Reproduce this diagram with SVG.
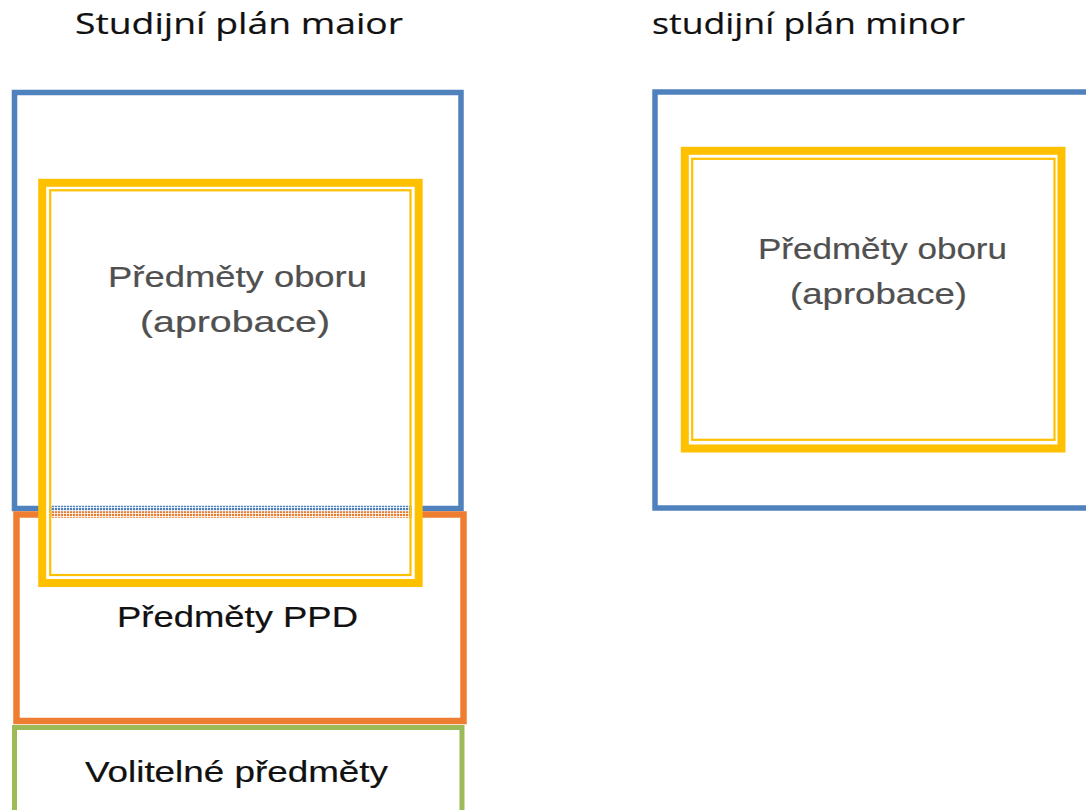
<svg xmlns="http://www.w3.org/2000/svg" width="1086" height="810" viewBox="0 0 1086 810">
<defs>
<style>
.title{font-family:"Open Sans","Liberation Sans",sans-serif;font-size:30px;fill:#111;stroke:#111;stroke-width:0.2;}
.lbl{font-family:"Liberation Sans",Arial,sans-serif;font-size:29.5px;fill:#111;stroke:#111;stroke-width:0.2;}
.gray{font-family:"Liberation Sans",Arial,sans-serif;font-size:30px;fill:#505050;stroke:#505050;stroke-width:0.2;}
.blue{fill:none;stroke:#4F81BD;stroke-width:5.5;}
.orange{fill:none;stroke:#ED7D31;stroke-width:6.5;}
.green{fill:none;stroke:#9BBB59;stroke-width:5;}
.ythick{fill:none;stroke:#FFC000;stroke-width:8;}
.ythin{fill:none;stroke:#FFC000;stroke-width:2.2;}
.gap{fill:none;stroke:#fff;stroke-width:3.5;}
</style>
<pattern id="hatch" width="3" height="3" patternUnits="userSpaceOnUse">
<rect x="0" y="0" width="3" height="1" fill="#fff" fill-opacity="0.8"/>
<rect x="0" y="0" width="1" height="3" fill="#fff" fill-opacity="0.8"/>
</pattern>
</defs>
<rect width="1086" height="810" fill="#fff"/>
<g id="titles">
<text class="title" transform="scale(1.25,1)" x="60" y="34" textLength="262.4" lengthAdjust="spacingAndGlyphs">Studijní plán maior</text>
<text class="title" transform="scale(1.25,1)" x="521.6" y="34" textLength="250.4" lengthAdjust="spacingAndGlyphs">studijní plán minor</text>
</g>
<g id="connectors"></g>
<g id="maior">
<rect class="blue" x="14.5" y="92.5" width="446.5" height="416"/>
</g>
<g id="ppd">
<rect class="orange" x="16.5" y="514.5" width="447" height="206.5"/>
<text class="lbl" transform="scale(1.25,1)" x="93.6" y="627" textLength="192.8" lengthAdjust="spacingAndGlyphs">Předměty PPD</text>
</g>
<g id="volitelne">
<rect class="green" x="14.5" y="727.5" width="447.5" height="100"/>
<text class="lbl" transform="scale(1.25,1)" x="68" y="782" textLength="242.4" lengthAdjust="spacingAndGlyphs">Volitelné předměty</text>
</g>
<g id="obor-maior">
<rect class="gap" x="47.7" y="188" width="365.5" height="389.3"/>
<rect class="ythick" x="42.2" y="182.8" width="376.5" height="400.2"/>
<rect class="ythin" x="50.2" y="190.3" width="360.3" height="384.7"/>
<rect x="51.4" y="503" width="357.9" height="17" fill="url(#hatch)"/>
<text class="gray" transform="scale(1.25,1)" x="86.4" y="287" textLength="207.2" lengthAdjust="spacingAndGlyphs">Předměty oboru</text>
<text class="gray" transform="scale(1.25,1)" x="112" y="332" textLength="152" lengthAdjust="spacingAndGlyphs">(aprobace)</text>
</g>
<g id="minor">
<rect class="blue" x="655" y="92" width="440" height="416"/>
</g>
<g id="obor-minor">
<rect class="ythick" x="684.8" y="150.8" width="376.7" height="297.7"/>
<rect class="ythin" x="692.2" y="158.8" width="362.3" height="281"/>
<text class="gray" transform="scale(1.25,1)" x="606.4" y="259" textLength="199.2" lengthAdjust="spacingAndGlyphs">Předměty oboru</text>
<text class="gray" transform="scale(1.25,1)" x="632" y="304" textLength="141.6" lengthAdjust="spacingAndGlyphs">(aprobace)</text>
</g>
</svg>
